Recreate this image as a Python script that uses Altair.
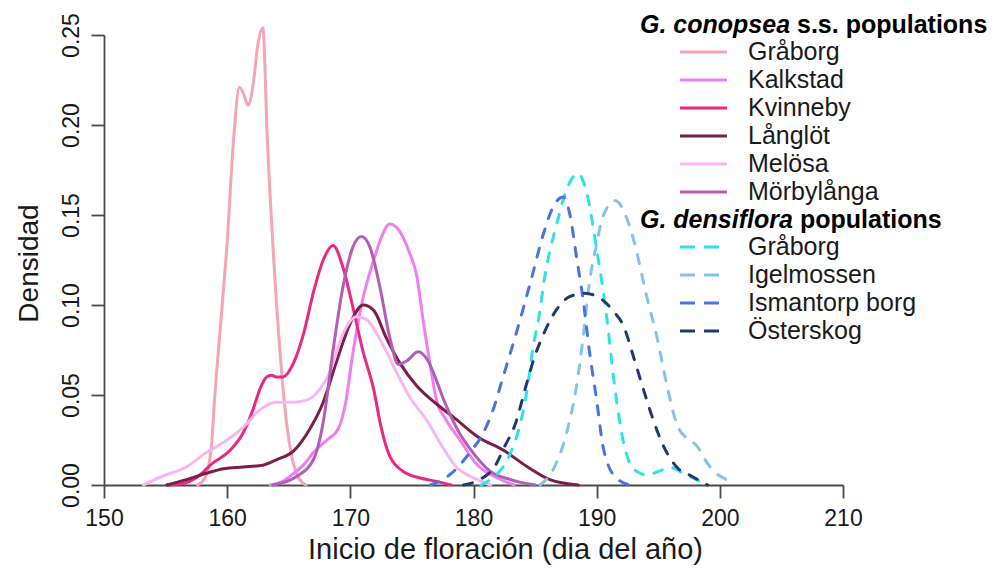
import altair as alt
import pandas as pd

# ---------------- data ----------------
conopsea_pops = ["Gråborg", "Kalkstad", "Kvinneby", "Långlöt", "Melösa", "Mörbylånga"]
conopsea_colors = ["#F5A5B4", "#F07EEE", "#EA2A80", "#7B1E4A", "#F9B6F3", "#B45DB6"]
densiflora_pops = ["Gråborg", "Igelmossen", "Ismantorp borg", "Österskog"]
densiflora_colors = ["#2DE2E8", "#80C4EC", "#4B74DF", "#1F3A72"]

header_italic = ["G. conopsea", "G. densiflora"]
header_plain = ["s.s. populations", "populations"]

x_ticks = [150, 160, 170, 180, 190, 200, 210]
y_ticks = [0.0, 0.05, 0.10, 0.15, 0.20, 0.25]

# G. conopsea s.s.
c_graborg_day = [157.6, 158.2, 158.7, 159.0, 159.5, 160.0, 160.5, 161.0, 161.4, 161.7, 162.1,
                 162.5, 162.9, 163.25, 163.75, 164.3, 164.8, 165.3, 165.8, 166.4]
c_graborg_dens = [0, 0.004, 0.02, 0.05, 0.092, 0.135, 0.19, 0.221, 0.216, 0.211, 0.222,
                  0.245, 0.254, 0.194, 0.129, 0.073, 0.036, 0.014, 0.004, 0]

kalkstad_day = [163.5, 164.5, 165.4, 166.3, 167.0, 168.1, 169.0, 169.6, 170.2, 171.0, 171.9,
                172.6, 173.2, 174.0, 174.8, 175.4, 175.9, 176.5, 177.0, 177.8, 178.9, 180.2,
                181.9, 183.3]
kalkstad_dens = [0, 0.002, 0.0065, 0.012, 0.018, 0.025, 0.031, 0.045, 0.073, 0.103, 0.125,
                 0.139, 0.145, 0.141, 0.129, 0.116, 0.092, 0.066, 0.047, 0.036, 0.025, 0.012,
                 0.004, 0]

kvinneby_day = [155.1, 156.5, 157.5, 158.8, 160.2, 161.3, 162.1, 162.7, 163.2, 163.6, 164.0,
                164.5, 165.4, 166.2, 167.0, 167.8, 168.6, 169.4, 170.2, 171.0, 171.9, 172.5,
                173.2, 174.3, 175.6, 177.0, 178.2]
kvinneby_dens = [0, 0.001, 0.004, 0.012, 0.019, 0.029, 0.042, 0.054, 0.060, 0.061, 0.060,
                 0.060, 0.068, 0.084, 0.107, 0.125, 0.133, 0.121, 0.099, 0.075, 0.053, 0.032,
                 0.016, 0.0075, 0.004, 0.002, 0]

langlot_day = [155.1, 156.7, 158.3, 159.7, 161.3, 162.9, 164.0, 165.4, 166.7, 167.8, 168.9,
               170.0, 171.05, 171.9, 172.9, 174.0, 175.4, 177.0, 178.5, 180.3, 182.5, 184.4,
               186.2, 188.5]
langlot_dens = [0, 0.003, 0.0065, 0.009, 0.010, 0.011, 0.014, 0.019, 0.031, 0.046, 0.069,
                0.090, 0.100, 0.097, 0.082, 0.068, 0.055, 0.045, 0.037, 0.027, 0.019, 0.010,
                0.003, 0]

melosa_day = [153.2, 154.8, 156.7, 158.3, 160.0, 161.3, 162.7, 164.0, 165.4, 166.4, 167.5,
              168.3, 169.4, 170.5, 171.3, 172.4, 173.8, 174.8, 176.2, 177.5, 178.6, 180.0,
              181.4]
melosa_dens = [0, 0.005, 0.010, 0.018, 0.025, 0.032, 0.042, 0.046, 0.046, 0.047, 0.053,
               0.062, 0.084, 0.0935, 0.092, 0.081, 0.062, 0.049, 0.036, 0.021, 0.010, 0.004,
               0]

morbylanga_day = [163.7, 165.6, 167.0, 167.8, 168.6, 169.4, 170.2, 170.9, 171.6, 172.4, 173.2,
                  173.9, 174.6, 175.5, 176.3, 177.0, 177.6, 178.6, 180.0, 181.3, 183.0, 185.0]
morbylanga_dens = [0, 0.0046, 0.014, 0.035, 0.075, 0.110, 0.132, 0.138, 0.132, 0.110, 0.082,
                   0.067, 0.069, 0.074, 0.069, 0.058, 0.047, 0.032, 0.0176, 0.008, 0.003, 0]

# G. densiflora
d_graborg_day = [180.6, 181.9, 182.4, 183.2, 183.8, 184.4, 184.8, 185.4, 185.7, 186.7, 187.8,
                 188.5, 189.2, 190.0, 190.8, 191.4, 192.2, 193.0, 194.1, 195.0, 196.0, 197.0,
                 198.1, 198.9]
d_graborg_dens = [0, 0.006, 0.010, 0.021, 0.034, 0.055, 0.075, 0.097, 0.112, 0.1435, 0.168,
                  0.173, 0.162, 0.131, 0.094, 0.058, 0.023, 0.009, 0.0055, 0.0075, 0.0098,
                  0.0065, 0.003, 0]

igelmossen_day = [185.4, 186.5, 187.6, 188.4, 188.9, 189.4, 190.0, 190.5, 191.5, 192.4, 193.2,
                  194.0, 194.9, 195.7, 196.5, 197.3, 198.1, 198.9, 199.6, 200.5, 201.0]
igelmossen_dens = [0, 0.009, 0.030, 0.0565, 0.082, 0.112, 0.134, 0.149, 0.158, 0.149, 0.131,
                   0.1065, 0.082, 0.0555, 0.034, 0.026, 0.022, 0.013, 0.007, 0.003, 0]

ismantorp_day = [176.5, 177.5, 178.3, 179.7, 180.8, 181.6, 182.4, 183.5, 184.6, 185.7, 186.5,
                 187.3, 187.8, 188.4, 188.9, 189.4, 190.0, 190.5, 191.0, 191.6, 192.7]
ismantorp_dens = [0, 0.003, 0.007, 0.018, 0.029, 0.042, 0.060, 0.085, 0.112, 0.140, 0.155,
                  0.160, 0.151, 0.125, 0.103, 0.075, 0.047, 0.022, 0.010, 0.004, 0]

osterskog_day = [179.2, 180.5, 181.7, 182.5, 183.4, 184.3, 185.0, 185.7, 186.7, 187.8, 189.0,
                 190.3, 191.3, 192.2, 193.0, 193.8, 194.6, 195.4, 196.5, 197.8, 199.0]
osterskog_dens = [0, 0.003, 0.010, 0.021, 0.034, 0.056, 0.072, 0.084, 0.097, 0.1046, 0.1065,
                  0.1037, 0.097, 0.088, 0.071, 0.053, 0.036, 0.022, 0.010, 0.0046, 0]


def frame(pop, days, dens):
    return pd.DataFrame({"pop": pop, "day": days, "dens": dens})


conopsea_df = pd.concat([
    frame(conopsea_pops[0], c_graborg_day, c_graborg_dens),
    frame(conopsea_pops[1], kalkstad_day, kalkstad_dens),
    frame(conopsea_pops[2], kvinneby_day, kvinneby_dens),
    frame(conopsea_pops[3], langlot_day, langlot_dens),
    frame(conopsea_pops[4], melosa_day, melosa_dens),
    frame(conopsea_pops[5], morbylanga_day, morbylanga_dens),
], ignore_index=True)

densiflora_df = pd.concat([
    frame(densiflora_pops[0], d_graborg_day, d_graborg_dens),
    frame(densiflora_pops[1], igelmossen_day, igelmossen_dens),
    frame(densiflora_pops[2], ismantorp_day, ismantorp_dens),
    frame(densiflora_pops[3], osterskog_day, osterskog_dens),
], ignore_index=True)

# ---------------- styling ----------------
FONT = "Liberation Sans"
AXIS_COLOR = "#4a4a4a"
TEXT_COLOR = "#1a1a1a"

x_enc = alt.X(
    "day:Q",
    scale=alt.Scale(domain=[150, 210], nice=False, zero=False),
    axis=alt.Axis(
        values=x_ticks, grid=False, format="d",
        domainColor=AXIS_COLOR, domainWidth=1.8, tickColor=AXIS_COLOR, tickWidth=1.8,
        tickSize=13, labelPadding=27, labelBaseline="alphabetic", labelFontSize=23,
        labelFont=FONT, labelColor=TEXT_COLOR, labelFlush=False, labelOverlap=False,
        titleFont=FONT, titleFontSize=29, titleFontWeight="normal", titleColor=TEXT_COLOR,
        titleX=401, titleY=73, titleAlign="center", titleBaseline="alphabetic", titleAngle=0,
    ),
    title="Inicio de floración (dia del año)",
)

y_enc = alt.Y(
    "dens:Q",
    scale=alt.Scale(domain=[0, 0.25], nice=False, zero=False),
    axis=alt.Axis(
        values=y_ticks, grid=False, format=".2f",
        domainColor=AXIS_COLOR, domainWidth=1.8, tickColor=AXIS_COLOR, tickWidth=1.8,
        tickSize=13, labelPadding=13, labelAngle=270, labelAlign="center",
        labelBaseline="alphabetic", labelFontSize=23, labelFont=FONT, labelColor=TEXT_COLOR,
        labelFlush=False, labelOverlap=False,
        titleFont=FONT, titleFontSize=28, titleFontWeight="normal", titleColor=TEXT_COLOR,
        titleAngle=270, titleX=-67, titleY=228, titleAlign="center", titleBaseline="alphabetic",
    ),
    title="Densidad",
)


def legend(y, dash=None):
    opts = dict(
        orient="none", legendX=536, legendY=y, padding=0,
        symbolType="M-4,0H4", symbolSize=138, symbolStrokeWidth=3,
        symbolOffset=51, labelOffset=32, rowPadding=2,
        labelFont=FONT, labelFontSize=25, labelColor=TEXT_COLOR, labelLimit=400,
    )
    if dash is not None:
        opts["symbolDash"] = dash
    return alt.Legend(**opts)


conopsea_lines = alt.Chart(conopsea_df).mark_line(
    strokeWidth=3, interpolate="monotone", strokeCap="round"
).encode(
    x=x_enc,
    y=y_enc,
    color=alt.Color(
        "pop:N",
        scale=alt.Scale(domain=conopsea_pops, range=conopsea_colors),
        legend=legend(4.5),
        title=None,
    ),
)

densiflora_lines = alt.Chart(densiflora_df).mark_line(
    strokeWidth=3, interpolate="monotone", strokeDash=[9, 11], strokeCap="round"
).encode(
    x=x_enc,
    y=y_enc,
    color=alt.Color(
        "pop:N",
        scale=alt.Scale(domain=densiflora_pops, range=densiflora_colors),
        legend=legend(199.5, dash=[15, 9]),
        title=None,
    ),
)

one_row = pd.DataFrame({"k": [0]})


def header(text, x, y, italic):
    kw = dict(align="left", baseline="alphabetic", font=FONT, fontSize=25,
              fontWeight="bold", color="#000000", text=text)
    if italic:
        kw["fontStyle"] = "italic"
    return alt.Chart(one_row).mark_text(**kw).encode(x=alt.value(x), y=alt.value(y))


h1a = header(header_italic[0], 536, -2, True)
h1b = header(header_plain[0], 693, -2, False)
h2a = header(header_italic[1], 536, 193, True)
h2b = header(header_plain[1], 696, 193, False)

chart = alt.layer(
    conopsea_lines, densiflora_lines, h1a, h1b, h2a, h2b
).resolve_scale(
    color="independent"
).properties(
    width=739, height=450,
    autosize=alt.AutoSizeParams(type="none"),
    padding={"left": 104, "top": 35, "right": 155, "bottom": 86},
    background="white",
).configure_view(stroke=None)

chart.save("out.html", embed_options={"renderer": "svg", "actions": False})
